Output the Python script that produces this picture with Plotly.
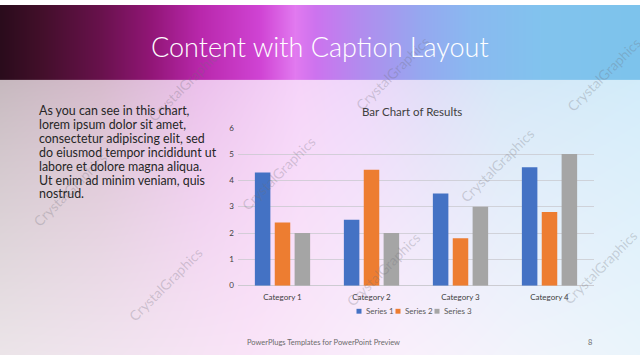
import base64
import struct
import zlib

import numpy as np
import plotly.graph_objects as go

# ---------------- data ----------------
categories = ["Category 1", "Category 2", "Category 3", "Category 4"]
series_names = ["Series 1", "Series 2", "Series 3"]
series1 = [4.3, 2.5, 3.5, 4.5]
series2 = [2.4, 4.4, 1.8, 2.8]
series3 = [2.0, 2.0, 3.0, 5.0]
series_colors = ["#4472C4", "#ED7D31", "#A5A5A5"]
y_ticks = [0, 1, 2, 3, 4, 5, 6]

slide_title = "Content with Caption Layout"
chart_title = "Bar Chart of Results"
caption_lines = [
    "As you can see in this chart,",
    "lorem ipsum dolor sit amet,",
    "consectetur adipiscing elit, sed",
    "do eiusmod tempor incididunt ut",
    "labore et dolore magna aliqua.",
    "Ut enim ad minim veniam, quis",
    "nostrud.",
]
footer_text = "PowerPlugs Templates for PowerPoint Preview"
page_number = "8"
watermark = "CrystalGraphics"

W, H = 640, 360

# ---------------- background picture (gradient) ----------------
title_stops = [
    (0, (42, 12, 28)), (40, (66, 15, 42)), (100, (104, 18, 76)),
    (150, (145, 22, 118)), (200, (185, 40, 172)), (260, (208, 68, 212)),
    (295, (226, 122, 240)), (315, (205, 115, 238)), (360, (178, 140, 238)),
    (420, (150, 168, 240)), (470, (138, 185, 240)), (540, (130, 195, 238)),
    (640, (125, 196, 236)),
]
body_top_stops = [
    (0, (198, 184, 190)), (100, (214, 186, 204)), (200, (236, 192, 236)),
    (300, (246, 212, 250)), (360, (238, 216, 250)), (430, (224, 222, 248)),
    (500, (214, 232, 248)), (640, (210, 236, 250)),
]
body_bot_stops = [
    (0, (236, 229, 233)), (120, (242, 228, 240)), (250, (250, 228, 248)),
    (400, (250, 240, 252)), (520, (242, 244, 252)), (640, (234, 245, 252)),
]

xs = np.arange(W)


def interp_stops(stops):
    sx = [s[0] for s in stops]
    return np.stack([np.interp(xs, sx, [s[1][i] for s in stops]) for i in range(3)], axis=-1)


band_h = 77
img = np.zeros((H, W, 3))
img[:band_h] = interp_stops(title_stops)[None]
top = interp_stops(body_top_stops)
bot = interp_stops(body_bot_stops)
t = ((np.arange(band_h, H) - band_h) / (H - band_h))[:, None, None] ** 0.8
img[band_h:] = top[None] * (1 - t) + bot[None] * t
img = np.clip(img, 0, 255).astype(np.uint8)


def png_uri(arr):
    h, w, _ = arr.shape
    raw = b"".join(b"\x00" + arr[r].tobytes() for r in range(h))

    def chunk(tag, data):
        return (struct.pack(">I", len(data)) + tag + data
                + struct.pack(">I", zlib.crc32(tag + data) & 0xFFFFFFFF))

    ihdr = struct.pack(">IIBBBBB", w, h, 8, 2, 0, 0, 0)
    png = (b"\x89PNG\r\n\x1a\n" + chunk(b"IHDR", ihdr)
           + chunk(b"IDAT", zlib.compress(raw, 9)) + chunk(b"IEND", b""))
    return "data:image/png;base64," + base64.b64encode(png).decode()


# ---------------- figure ----------------
FONT = "Lato"
fig = go.Figure()
for name, vals, col in zip(series_names, [series1, series2, series3], series_colors):
    fig.add_trace(go.Bar(x=categories, y=vals, name=name, marker=dict(color=col, line=dict(width=0)),
                         showlegend=False))


def px(x):
    return x / W


def py(y):
    return 1 - y / H


annotations = []
# watermarks (drawn first so the texts sit on top)
wm_pos = [(70, 190), (185, 82), (392, 70), (604, 72), (278, 173), (497, 165),
          (165, 287), (383, 272), (600, 270)]
for wx, wy in wm_pos:
    annotations.append(dict(text=watermark, x=px(wx), y=py(wy), xref="paper", yref="paper",
                            showarrow=False, textangle=-45,
                            font=dict(family=FONT, size=14, color="rgba(110,110,120,0.28)"),
                            xanchor="center", yanchor="middle"))
# slide title
annotations.append(dict(text=slide_title, x=0.5, y=py(43), xref="paper", yref="paper",
                        showarrow=False, font=dict(family=FONT, size=27, color="white", weight=300),
                        xanchor="center", yanchor="middle"))
# caption lines
for i, line in enumerate(caption_lines):
    annotations.append(dict(text=line, x=px(37), y=py(109 + i * 14.2), xref="paper", yref="paper",
                            showarrow=False, font=dict(family=FONT, size=12.4, color="#262626"),
                            xanchor="left", yanchor="middle"))
# chart title
annotations.append(dict(text=chart_title, x=px(412), y=py(110), xref="paper", yref="paper",
                        showarrow=False, font=dict(family=FONT, size=11.5, color="#404040"),
                        xanchor="center", yanchor="middle"))
# legend (manual)
legend_x = [359, 398, 437]
shapes = []
for name, col, lx in zip(series_names, series_colors, legend_x):
    shapes.append(dict(type="rect", xref="paper", yref="paper", x0=px(lx - 2.5), x1=px(lx + 2.5),
                       y0=py(317.5), y1=py(312.5), fillcolor=col, line=dict(width=0)))
    annotations.append(dict(text=name, x=px(lx + 5), y=py(315), xref="paper", yref="paper",
                            showarrow=False, font=dict(family=FONT, size=8, color="#595959"),
                            xanchor="left", yanchor="middle"))
# footer
annotations.append(dict(text=footer_text, x=px(245), y=py(347), xref="paper", yref="paper",
                        showarrow=False, font=dict(family=FONT, size=7.5, color="#6b6b6b"),
                        xanchor="left", yanchor="middle"))
annotations.append(dict(text=page_number, x=px(590), y=py(347), xref="paper", yref="paper",
                        showarrow=False, font=dict(family=FONT, size=7.5, color="#6b6b6b"),
                        xanchor="center", yanchor="middle"))

fig.update_layout(
    width=W, height=H, margin=dict(l=0, r=0, t=0, b=0),
    paper_bgcolor="white", plot_bgcolor="rgba(0,0,0,0)",
    barmode="group", bargap=0.33, bargroupgap=0.22,
    font=dict(family=FONT, color="#595959"),
    images=[dict(source=png_uri(img), xref="paper", yref="paper", x=0, y=1, sizex=1, sizey=1,
                 xanchor="left", yanchor="top", sizing="stretch", layer="below")],
    annotations=annotations, shapes=shapes,
    xaxis=dict(domain=[px(238), px(594)], showgrid=False, zeroline=False, showline=False,
               ticks="", tickfont=dict(size=8, color="#404040"), ticklabelstandoff=5),
    yaxis=dict(domain=[py(288.7), py(126.2)], range=[0, 6], tickvals=y_ticks,
               showgrid=True, gridcolor="rgba(200,200,205,0.75)", gridwidth=1,
               zeroline=True, zerolinecolor="rgba(200,200,205,0.9)", zerolinewidth=1,
               showline=False, ticks="", tickfont=dict(size=8, color="#404040"),
               ticklabelstandoff=3),
)

fig.write_html("out.html")
